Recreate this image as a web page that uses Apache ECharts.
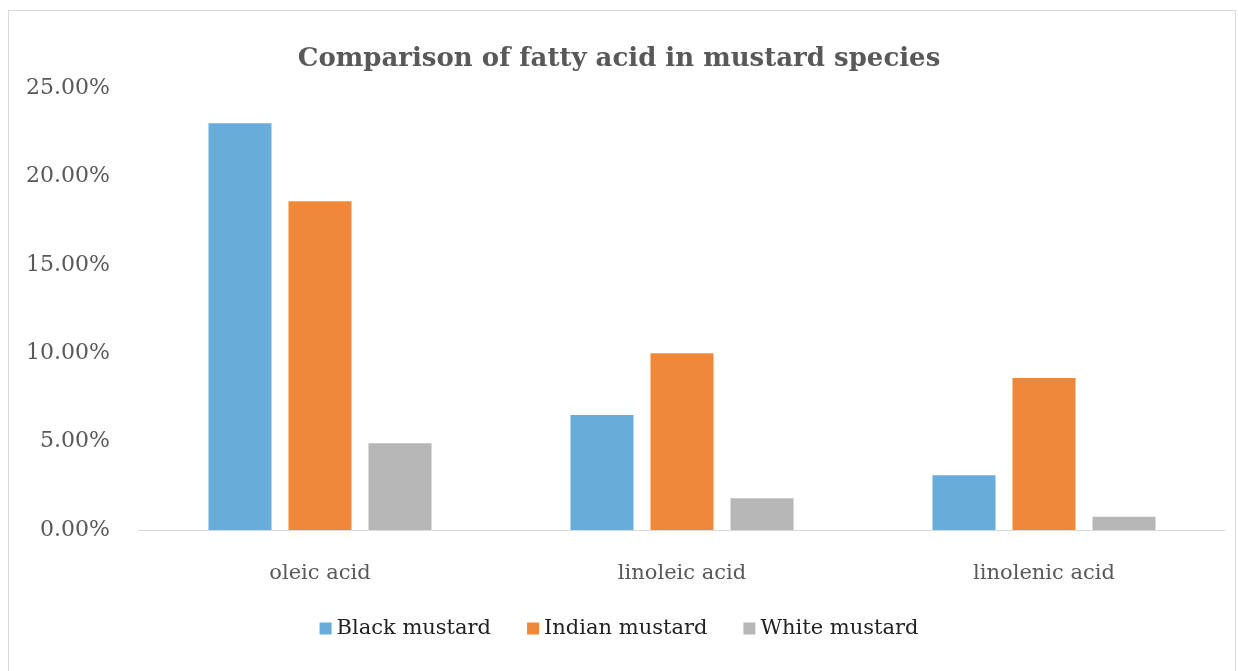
<!DOCTYPE html>
<html>
<head>
<meta charset="utf-8">
<script src="https://cdn.jsdelivr.net/npm/echarts@6/dist/echarts.min.js"></script>
<style>
  html, body { margin: 0; padding: 0; background: #fff; }
  #frame {
    position: absolute; left: 8px; top: 10px; width: 1228px; height: 670px;
    border: 1px solid #d9d9d9; box-sizing: border-box;
  }
  #chart { position: absolute; left: 0; top: 0; width: 1238px; height: 671px; }
</style>
</head>
<body>
<div id="frame"></div>
<div id="chart"></div>
<script>
const categories = ["oleic acid", "linoleic acid", "linolenic acid"];
const blackMustard = [23.0, 6.5, 3.1];
const indianMustard = [18.6, 10.0, 8.6];
const whiteMustard = [4.9, 1.8, 0.75];
const seriesNames = ["Black mustard", "Indian mustard", "White mustard"];
const colors = ["#68acd9", "#f0883a", "#b7b7b7"];

const font = '"DejaVu Serif", "Liberation Serif", serif';

const chart = echarts.init(document.getElementById("chart"));

const makeSeries = (name, data, color) => ({
  name,
  type: "bar",
  data,
  barWidth: 63,
  barGap: "27%",
  itemStyle: { color },
});

chart.setOption({
  backgroundColor: "transparent",
  animation: false,
  title: {
    text: "Comparison of fatty acid in mustard species",
    left: "center",
    top: 41,
    textStyle: {
      fontFamily: font,
      fontSize: 26,
      fontWeight: "bold",
      color: "#595959",
    },
  },
  legend: {
    bottom: 27,
    left: "center",
    itemWidth: 12,
    itemHeight: 12,
    itemGap: 36,
    icon: "rect",
    textStyle: { fontFamily: font, fontSize: 21, color: "#222" },
    data: seriesNames,
  },
  grid: {
    left: 139,
    right: 13,
    top: 88,
    bottom: 141,
  },
  xAxis: {
    type: "category",
    data: categories,
    axisTick: { show: false },
    axisLine: { lineStyle: { color: "#d9d9d9", width: 1 } },
    axisLabel: {
      fontFamily: font,
      fontSize: 21,
      color: "#595959",
      margin: 33,
    },
  },
  yAxis: {
    type: "value",
    min: 0,
    max: 25,
    interval: 5,
    axisLine: { show: false },
    axisTick: { show: false },
    splitLine: { show: false },
    axisLabel: {
      fontFamily: font,
      fontSize: 22,
      color: "#595959",
      margin: 29,
      formatter: (v) => v.toFixed(2) + "%",
    },
  },
  series: [
    makeSeries(seriesNames[0], blackMustard, colors[0]),
    makeSeries(seriesNames[1], indianMustard, colors[1]),
    makeSeries(seriesNames[2], whiteMustard, colors[2]),
  ],
});
</script>
</body>
</html>
